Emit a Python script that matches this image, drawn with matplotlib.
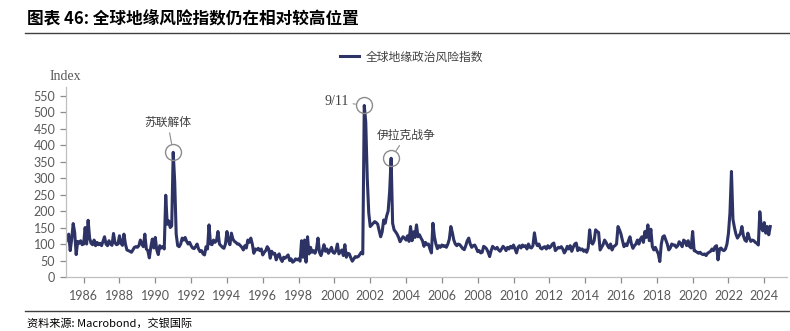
import numpy as np
import matplotlib
matplotlib.use("Agg")
import matplotlib.pyplot as plt

plt.rcParams['font.family'] = ['Lato', 'Noto Sans CJK SC', 'DejaVu Sans']

# monthly geopolitical risk index, one row per year, starting Jan 1985
gpr_1985_1994 = [
    [105, 118, 130, 80, 115, 162, 135, 68, 108, 102, 110, 98],
    [100, 150, 100, 172, 118, 102, 98, 112, 95, 105, 98, 102],
    [95, 108, 122, 100, 95, 110, 100, 96, 132, 104, 98, 100],
    [125, 102, 96, 130, 100, 82, 80, 78, 75, 82, 90, 92],
    [90, 95, 112, 100, 92, 130, 85, 80, 58, 90, 115, 88],
    [120, 82, 68, 95, 88, 92, 85, 248, 160, 170, 150, 155],
    [378, 290, 130, 95, 92, 100, 118, 112, 120, 108, 100, 105],
    [95, 88, 86, 92, 100, 85, 77, 80, 70, 67, 92, 85],
    [158, 100, 98, 112, 105, 110, 138, 100, 95, 90, 87, 100],
    [138, 110, 98, 133, 115, 108, 105, 100, 100, 95, 90, 82],
]
gpr_1995_2004 = [
    [95, 88, 112, 105, 118, 100, 72, 85, 82, 87, 80, 85],
    [67, 75, 80, 92, 85, 57, 78, 70, 72, 52, 65, 70],
    [55, 47, 60, 57, 62, 67, 50, 55, 45, 48, 55, 52],
    [55, 48, 110, 60, 112, 45, 122, 70, 90, 75, 80, 72],
    [85, 118, 75, 65, 80, 98, 78, 85, 72, 80, 90, 75],
    [72, 80, 100, 70, 76, 82, 65, 98, 60, 72, 70, 58],
    [48, 55, 62, 60, 62, 68, 75, 70, 520, 470, 300, 195],
    [153, 158, 163, 168, 165, 160, 140, 122, 137, 173, 163, 185],
    [200, 259, 360, 163, 143, 137, 130, 120, 107, 115, 122, 118],
    [112, 125, 108, 153, 110, 137, 120, 158, 122, 128, 118, 110],
]
gpr_2005_2014 = [
    [93, 105, 98, 100, 85, 73, 163, 122, 100, 86, 95, 90],
    [97, 93, 95, 90, 100, 115, 153, 135, 112, 100, 95, 100],
    [98, 92, 86, 83, 95, 110, 118, 100, 90, 95, 97, 88],
    [77, 80, 73, 75, 93, 90, 85, 75, 62, 80, 93, 88],
    [85, 90, 82, 78, 85, 93, 88, 80, 90, 85, 93, 88],
    [97, 85, 73, 90, 95, 88, 97, 92, 95, 85, 100, 90],
    [88, 95, 134, 105, 95, 100, 88, 85, 90, 92, 85, 95],
    [88, 92, 100, 103, 80, 85, 90, 88, 92, 85, 73, 80],
    [93, 85, 95, 78, 90, 100, 103, 80, 88, 82, 85, 78],
    [82, 75, 88, 143, 105, 100, 110, 143, 138, 135, 82, 90],
]
gpr_2015_2024 = [
    [98, 112, 105, 95, 88, 100, 82, 92, 95, 100, 153, 143],
    [130, 110, 92, 100, 95, 110, 122, 100, 87, 95, 100, 112],
    [100, 115, 122, 105, 138, 120, 158, 110, 145, 92, 82, 90],
    [80, 70, 47, 100, 122, 125, 112, 100, 82, 88, 100, 97],
    [97, 90, 95, 107, 100, 92, 112, 108, 95, 110, 92, 88],
    [138, 80, 78, 75, 72, 75, 70, 68, 70, 65, 72, 75],
    [78, 85, 80, 92, 95, 52, 85, 88, 82, 80, 85, 100],
    [133, 195, 320, 175, 150, 130, 118, 125, 132, 153, 125, 112],
    [108, 133, 118, 108, 112, 110, 105, 102, 97, 198, 150, 140],
    [165, 133, 153, 128, 153],
]

events = ["苏联解体", "9/11", "伊拉克战争"]
event_months = [(1991, 1), (2001, 9), (2003, 3)]

series_name = "全球地缘政治风险指数"
title = "图表 46: 全球地缘风险指数仍在相对较高位置"
source = "资料来源: Macrobond，交银国际"

values = np.array([v for block in (gpr_1985_1994, gpr_1995_2004, gpr_2005_2014, gpr_2015_2024)
                   for row in block for v in row], dtype=float)
t = 1985 + np.arange(len(values)) / 12.0

cjk = ['Noto Sans CJK SC', 'DejaVu Sans']
serif_cjk = ['Liberation Serif', 'Noto Sans CJK SC']
navy = '#2e3366'
grey = '#595959'

fig = plt.figure(figsize=(7.9, 3.31), dpi=100)
ax = fig.add_axes([0.0832, 0.1631, 0.9126, 0.575])

ax.plot(t, values, color=navy, lw=2.2, label=series_name, solid_joinstyle='round')

ax.set_xlim(1985, 2025.25)
ax.set_ylim(0, 577)
ax.set_yticks(np.arange(0, 551, 50))
ax.set_xticks(np.arange(1986, 2025, 2))

for s in ('top', 'right'):
    ax.spines[s].set_visible(False)
for s in ('left', 'bottom'):
    ax.spines[s].set_color('#bfbfbf')
    ax.spines[s].set_linewidth(0.9)
ax.tick_params(axis='both', colors='#8c8c8c', labelcolor=grey, labelsize=9, length=4, width=0.9)
ax.tick_params(axis='x', pad=5)

# circle the peaks and name them
offsets = [((-4, 17), 'center', 'bottom', cjk, 8.5),
           ((-11, 3), 'right', 'center', serif_cjk, 10),
           ((11, 12), 'center', 'bottom', cjk, 8.5)]
for name, (yr, mo), (off, ha, va, fam, fs) in zip(events, event_months, offsets):
    i = (yr - 1985) * 12 + (mo - 1)
    ax.plot(t[i], values[i], marker='o', ms=11.5, mfc='none', mec='#8c8c8c', mew=1.0)
    ax.annotate(name, xy=(t[i], values[i]), xytext=off, textcoords='offset points',
                ha=ha, va=va, fontsize=fs, color='#404040', family=fam,
                arrowprops=dict(arrowstyle='-', color='#8c8c8c', lw=0.8, shrinkA=1, shrinkB=6.5))

fig.text(0.083, 0.770, "Index", ha='center', va='center', fontsize=10,
         color=grey, family='Liberation Serif')

fig.legend(loc='center', bbox_to_anchor=(0.521, 0.828), frameon=False, handlelength=1.6,
           handletextpad=0.5, prop={'family': cjk, 'size': 8.5}, labelcolor='#404040')

fig.text(0.034, 0.94, title, ha='left', va='center', fontsize=12, fontweight='bold', family=cjk)
fig.add_artist(plt.Line2D([0.032, 1.0], [0.899, 0.899], color='#404040', lw=1.0))
fig.add_artist(plt.Line2D([0.032, 1.0], [0.06, 0.06], color='#404040', lw=1.0))
fig.text(0.034, 0.024, source, ha='left', va='center', fontsize=8, style='italic', family=cjk)

fig.savefig("out.png", dpi=100)
